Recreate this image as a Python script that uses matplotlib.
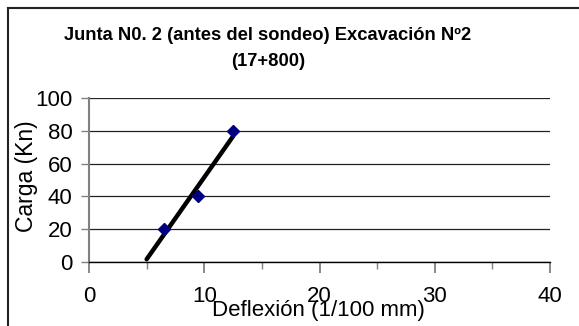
import matplotlib
matplotlib.use("Agg")
import matplotlib.pyplot as plt
import numpy as np
from matplotlib.lines import Line2D
from matplotlib.ticker import MultipleLocator

plt.rcParams['font.family'] = ['Liberation Sans', 'DejaVu Sans']

title_line1 = "Junta N0. 2 (antes del sondeo) Excavación Nº2"
title_line2 = "(17+800)"
xlabel = "Deflexión (1/100 mm)"
ylabel = "Carga (Kn)"
deflexion = [6.5, 9.5, 12.5]
carga = [20, 40, 80]
trend_x = [5, 12.5]
xticks = [0, 10, 20, 30, 40]
yticks = [0, 20, 40, 60, 80, 100]

W, H = 579, 326
fig = plt.figure(figsize=(W / 100, H / 100), dpi=100)
ax = fig.add_axes([89 / W, 1 - 262 / H, (550 - 89) / W, (262 - 98) / H])

# trend line (linear fit of the points)
coef = np.polyfit(deflexion, carga, 1)
tx = np.array(trend_x)
ax.plot(tx, np.polyval(coef, tx), color='black', lw=3.2, solid_capstyle='round', zorder=3)
ax.plot(deflexion, carga, linestyle='none', marker='D', ms=6.4, color='#000080', zorder=4)

ax.set_xlim(0, 40)
ax.set_ylim(0, 100)
ax.set_xticks(xticks)
ax.xaxis.set_minor_locator(MultipleLocator(5))
ax.set_yticks(yticks)
ax.yaxis.grid(True, color='#222222', lw=0.9)
ax.set_axisbelow(True)
for s in ['top', 'right']:
    ax.spines[s].set_visible(False)
ax.spines['left'].set_color('#808080')
ax.spines['left'].set_linewidth(1.5)
ax.spines['bottom'].set_color('black')
ax.spines['bottom'].set_linewidth(1.0)
ax.tick_params(axis='x', which='major', direction='out', length=8, width=1.3, color='#808080',
               labelsize=16, pad=9)
ax.tick_params(axis='x', which='minor', direction='out', length=5, width=1.0, color='#808080')
ax.tick_params(axis='y', which='major', direction='out', length=6, width=1.0, color='#808080',
               labelsize=16, pad=6)

fig.text(268 / W, 1 - 40 / H, title_line1, ha='center', va='baseline', fontsize=13.2,
         fontweight='bold')
fig.text(268 / W, 1 - 66 / H, title_line2, ha='center', va='baseline', fontsize=13.2,
         fontweight='bold')
fig.text(318 / W, 1 - 316 / H, xlabel, ha='center', va='baseline', fontsize=16)
fig.text(27 / W, 1 - 176 / H, ylabel, ha='center', va='center', fontsize=16.5, rotation=90)

# chart frame (left and top edges visible)
fig.add_artist(Line2D([8 / W, 8 / W], [0, 1 - 7.5 / H], transform=fig.transFigure,
                      color='#222222', lw=1.5))
fig.add_artist(Line2D([8 / W, 1], [1 - 7.5 / H, 1 - 7.5 / H], transform=fig.transFigure,
                      color='#222222', lw=1.5))

fig.savefig("out.png", dpi=100)
